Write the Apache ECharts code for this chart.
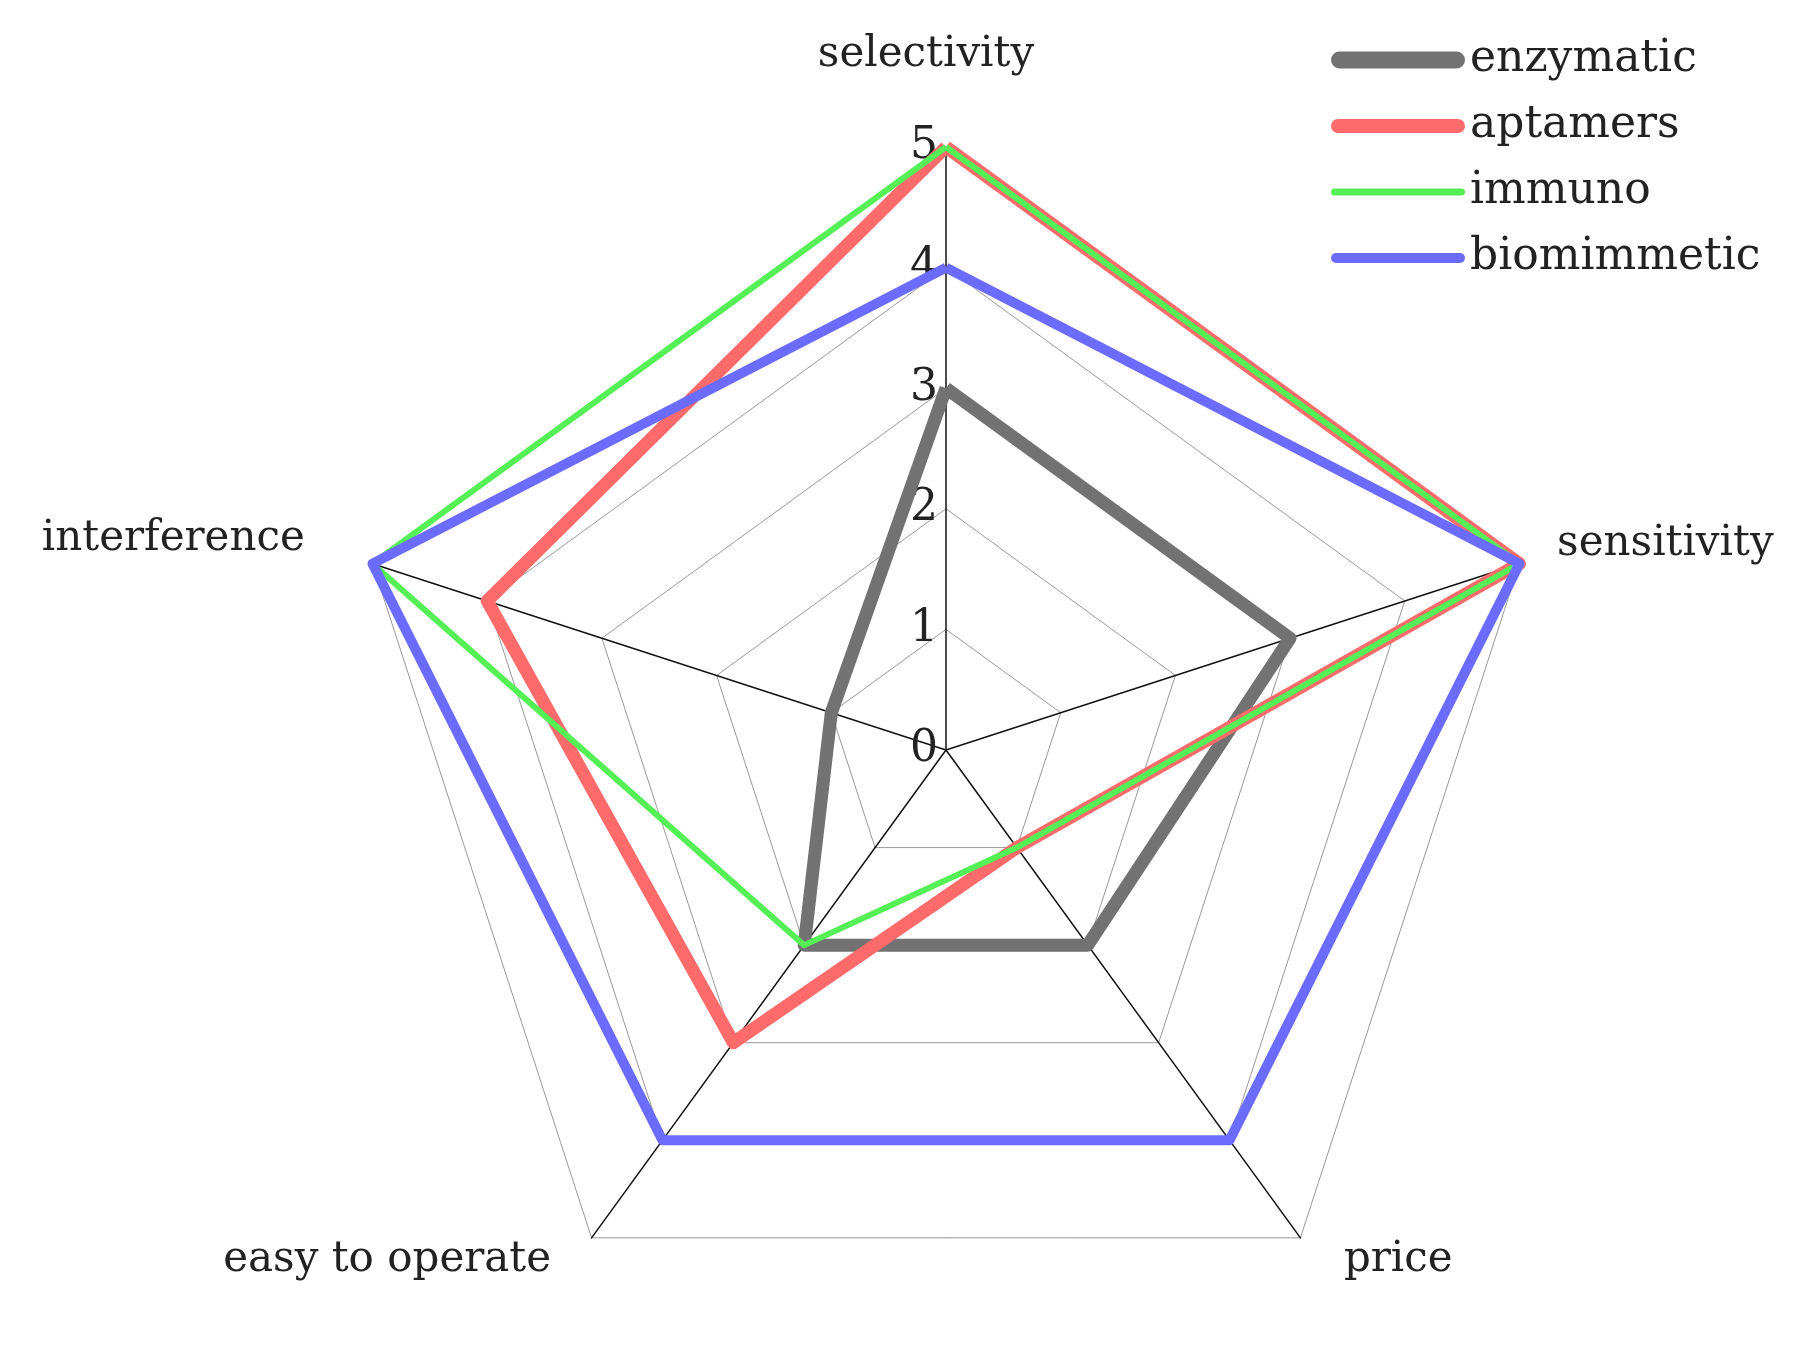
<!DOCTYPE html>
<html>
<head>
<meta charset="utf-8">
<script src="https://cdn.jsdelivr.net/npm/echarts@6/dist/echarts.min.js"></script>
<style>
  html, body { margin: 0; padding: 0; background: #fff; }
  #radar-echar { width: 1816px; height: 1358px; }
</style>
</head>
<body>
<div id="radar-echar"></div>
<script>
// indicators, listed counterclockwise from the top (echarts order)
var indicatorNames = ['selectivity', 'interference', 'easy to operate', 'price', 'sensitivity'];
var axisMax = 5;

var seriesNames = ['enzymatic', 'aptamers', 'immuno', 'biomimmetic'];
var enzymatic   = [3, 1, 2, 2, 3];
var aptamers    = [5, 4, 3, 1, 5];
var immuno      = [5, 5, 2, 1, 5];
var biomimmetic = [4, 5, 4, 4, 5];

var seriesColors = ['#727272', '#ff6b6b', '#55f055', '#6b6bff'];
var lineWidths = [13, 13, 6, 10];
var legendThick = [17, 14, 7, 10];

var serifFont = 'DejaVu Serif';

// 轴名称的微调（rich 样式里的 padding）
var nameRich = {
  top:    { padding: [0, 40, 43, 0] },
  left:   { padding: [0, 41, 31, 0] },
  bleft:  { padding: [0, 24, 0, 0] },
  bright: { padding: [0, 0, 0, 27] },
  right:  { padding: [0, 0, 21, 11] }
};
var nameKeys = ['top', 'left', 'bleft', 'bright', 'right'];
Object.keys(nameRich).forEach(function (k) {
  nameRich[k].fontFamily = serifFont;
  nameRich[k].fontSize = 42;
  nameRich[k].color = '#222';
});

var radar_echar = echarts.init(document.getElementById('radar-echar'));

var indicators = indicatorNames.map(function (name, i) {
  var ind = { name: name, min: 0, max: axisMax };
  if (i === 0) {
    // 刻度只显示在第一根轴上
    ind.axisLabel = {
      show: true,
      color: '#222',
      fontFamily: serifFont,
      fontSize: 44,
      margin: 8
    };
  }
  return ind;
});

var values = [enzymatic, aptamers, immuno, biomimmetic];
var radarData = seriesNames.map(function (name, i) {
  return {
    name: name,
    value: values[i],
    symbol: 'none',
    lineStyle: { color: seriesColors[i], width: lineWidths[i] },
    itemStyle: { color: seriesColors[i] }
  };
});

function barIcon(h) {
  var r = h / 2, w = 134;
  return 'path://M' + r + ',0 H' + (w - r) + ' A' + r + ',' + r + ' 0 0 1 ' + (w - r) + ',' + h +
    ' H' + r + ' A' + r + ',' + r + ' 0 0 1 ' + r + ',0 Z';
}

var radar_option = {
  backgroundColor: '#fff',
  legend: {
    orient: 'vertical',
    left: 1326,
    top: 30,
    itemWidth: 134,
    itemHeight: 20,
    itemGap: 16,
    textStyle: { color: '#222', fontFamily: serifFont, fontSize: 44, lineHeight: 50 },
    data: seriesNames.map(function (name, i) {
      return { name: name, icon: barIcon(legendThick[i]), itemStyle: { color: seriesColors[i] } };
    })
  },
  radar: {
    center: [946, 750],
    radius: 603,
    startAngle: 90,
    shape: 'polygon',
    splitNumber: 5,
    nameGap: 28,
    axisName: {
      color: '#222', fontFamily: serifFont, fontSize: 42,
      formatter: function (name) {
        return '{' + nameKeys[indicatorNames.indexOf(name)] + '|' + name + '}';
      },
      rich: nameRich
    },
    axisLine: { lineStyle: { color: '#111', width: 1.5 } },
    splitLine: { lineStyle: { color: '#999', width: 1 } },
    splitArea: { show: false },
    axisLabel: { show: false },
    indicator: indicators
  },
  series: [
    {
      type: 'radar',
      symbol: 'none',
      data: radarData
    }
  ]
};
radar_echar.setOption(radar_option);
</script>
</body>
</html>
